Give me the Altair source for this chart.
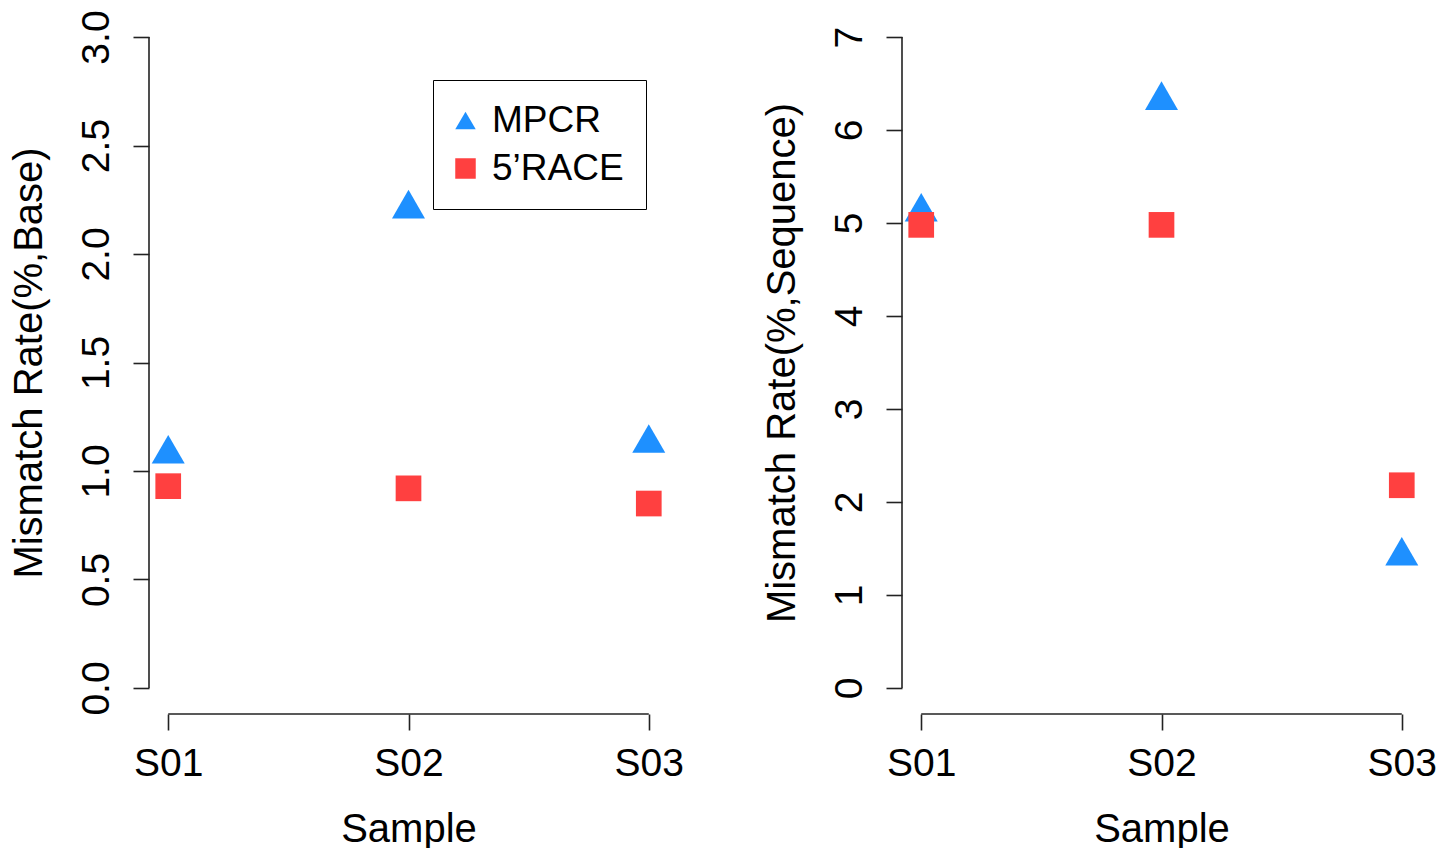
import altair as alt
import pandas as pd

samples = ["S01", "S02", "S03"]
series = ["MPCR", "5’RACE"]
base_mpcr = [1.10, 2.23, 1.15]
base_race = [0.93, 0.92, 0.85]
seq_mpcr = [5.17, 6.37, 1.47]
seq_race = [4.98, 4.98, 2.18]
base_ticks = [0.0, 0.5, 1.0, 1.5, 2.0, 2.5, 3.0]
seq_ticks = [0, 1, 2, 3, 4, 5, 6, 7]
colors = ["#1E90FF", "#FF4040"]
shapes = ["triangle-up", "square"]
marker_sizes = [1090, 660]

FONT = "Liberation Sans"
LFS = 39   # tick labels
TFS = 40   # axis titles
GFS = 37   # legend labels
W, H = 519, 703
LINE = "#222222"

idx = list(range(1, len(samples) + 1))
label_expr = "[" + ",".join("'%s'" % s for s in samples) + "][datum.value - 1]"
size_expr = "datum.Series === '%s' ? %d : %d" % (series[0], marker_sizes[0], marker_sizes[1])


def panel(mpcr, race, ticks, fmt, ytitle, show_legend):
    df = pd.DataFrame({
        "Idx": idx * 2,
        "Sample": samples * 2,
        "Series": [series[0]] * len(samples) + [series[1]] * len(samples),
        "Rate": mpcr + race,
    })
    ypad = 0.04 * (ticks[-1] - ticks[0])
    xpad = 0.04 * (idx[-1] - idx[0])
    yscale = alt.Scale(domain=[ticks[0] - ypad, ticks[-1] + ypad], nice=False, zero=False)
    xscale = alt.Scale(domain=[idx[0] - xpad, idx[-1] + xpad], nice=False, zero=False)

    if show_legend:
        leg = alt.Legend(
            title=None, orient="none", legendX=284, legendY=69,
            strokeColor="black", fillColor="white", padding=22,
            rowPadding=10, symbolSize=420, symbolOffset=-8, labelOffset=8,
            labelFont=FONT, labelFontSize=GFS, labelColor="black",
        )
    else:
        leg = None

    xaxis = alt.Axis(title="Sample", values=idx, labelExpr=label_expr, labelAngle=0,
                     domain=False, grid=False, tickSize=16, labelPadding=14,
                     titlePadding=26)
    yaxis = alt.Axis(title=ytitle, values=ticks, format=fmt, labelAngle=270,
                     domain=False, grid=False, tickSize=16, labelPadding=17,
                     titlePadding=28)

    pts = alt.Chart(df).mark_point(filled=True, opacity=1).encode(
        x=alt.X("Idx:Q", scale=xscale, axis=xaxis),
        y=alt.Y("Rate:Q", scale=yscale, axis=yaxis),
        color=alt.Color("Series:N", scale=alt.Scale(domain=series, range=colors), legend=leg),
        shape=alt.Shape("Series:N", scale=alt.Scale(domain=series, range=shapes), legend=leg),
        size=alt.Size("Sz:Q", scale=None),
        order=alt.Order("o:Q"),
    ).transform_calculate(
        o="datum.Series === '%s' ? 0 : 1" % series[0],
        Sz=size_expr,
    )

    xline_df = pd.DataFrame({"Idx": [idx[0]], "Idx2": [idx[-1]], "Rate": [ticks[0] - ypad]})
    xline = alt.Chart(xline_df).mark_rule(color=LINE, strokeWidth=1.6).encode(
        x=alt.X("Idx:Q", scale=xscale),
        x2="Idx2",
        y=alt.Y("Rate:Q", scale=yscale),
    )
    yline_df = pd.DataFrame({"Idx": [idx[0] - xpad], "Rate": [ticks[0]], "Rate2": [ticks[-1]]})
    yline = alt.Chart(yline_df).mark_rule(color=LINE, strokeWidth=1.6).encode(
        x=alt.X("Idx:Q", scale=xscale),
        y=alt.Y("Rate:Q", scale=yscale),
        y2="Rate2",
    )
    return alt.layer(pts, xline, yline).properties(width=W, height=H)


left = panel(base_mpcr, base_race, base_ticks, ".1f", "Mismatch Rate(%,Base)", True)
right = panel(seq_mpcr, seq_race, seq_ticks, "d", "Mismatch Rate(%,Sequence)", False)

chart = alt.hconcat(left, right, spacing=234, bounds="flush").resolve_legend(
    color="independent", shape="independent"
).resolve_scale(color="independent", shape="independent").properties(
    padding={"left": 8, "top": 9, "right": 0, "bottom": 0},
    background="white",
).configure_axis(
    labelFont=FONT, labelFontSize=LFS, labelColor="black",
    titleFont=FONT, titleFontSize=TFS, titleFontWeight="normal", titleColor="black",
    tickColor=LINE, tickWidth=1.6,
).configure_view(stroke=None)

chart.save("out.html", embed_options={"renderer": "svg", "actions": False})
